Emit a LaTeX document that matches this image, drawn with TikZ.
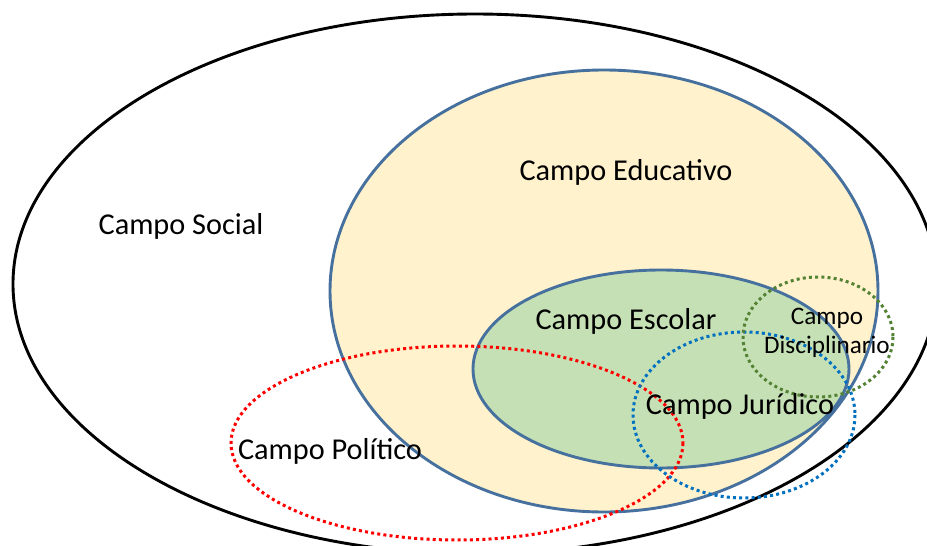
\documentclass[tikz,border=0pt]{standalone}
\usepackage{fontspec}
\setmainfont{Carlito}
\definecolor{edublue}{HTML}{46709E}
\definecolor{eduyellow}{HTML}{FFF2CC}
\definecolor{escgreen}{HTML}{C5E0B4}
\definecolor{jurblue}{HTML}{0070C0}
\definecolor{disgreen}{HTML}{548235}
\definecolor{polred}{HTML}{FF0000}
\tikzset{
  solidring/.style={line width=2.9pt},
  dotring/.style={line width=3pt, dash pattern=on 3pt off 3.2pt},
  bigtext/.style={font=\fontsize{30.3}{35}\selectfont, inner sep=0pt, align=center},
  smalltext/.style={font=\fontsize{25.2}{29.5}\selectfont, inner sep=0pt, align=center},
}
\begin{document}
\begin{tikzpicture}[x=1pt,y=-1pt]
\useasboundingbox (0,0) rectangle (927,546);
\clip (0,0) rectangle (927,546);
\fill[white] (0,0) rectangle (927,546);
% Campo Social
\draw[solidring, black] (475,284) ellipse [x radius=462, y radius=270];
% Campo Educativo
\draw[solidring, draw=edublue, fill=eduyellow] (604,291) ellipse [x radius=274, y radius=221];
% Campo Escolar
\draw[solidring, draw=edublue, fill=escgreen] (661,369) ellipse [x radius=188, y radius=99];
% Campo Politico
\draw[dotring, polred] (457,443) ellipse [x radius=226, y radius=97];
% Campo Juridico
\draw[dotring, jurblue] (744,415) ellipse [x radius=111, y radius=83];
% Campo Disciplinario
\draw[dotring, disgreen] (818,337) ellipse [x radius=75, y radius=60];
% labels
\node[bigtext] (social) at (181,226) {Campo Social};
\node[bigtext] (educativo) at (626,172) {Campo Educativo};
\node[bigtext] (escolar) at (626,321) {Campo Escolar};
\node[bigtext] (juridico) at (740,406) {Campo Jurídico};
\node[bigtext] (politico) at (330,451) {Campo Político};
\node[smalltext] (disciplinario) at (827,333) {Campo\\Disciplinario};
\end{tikzpicture}
\end{document}
